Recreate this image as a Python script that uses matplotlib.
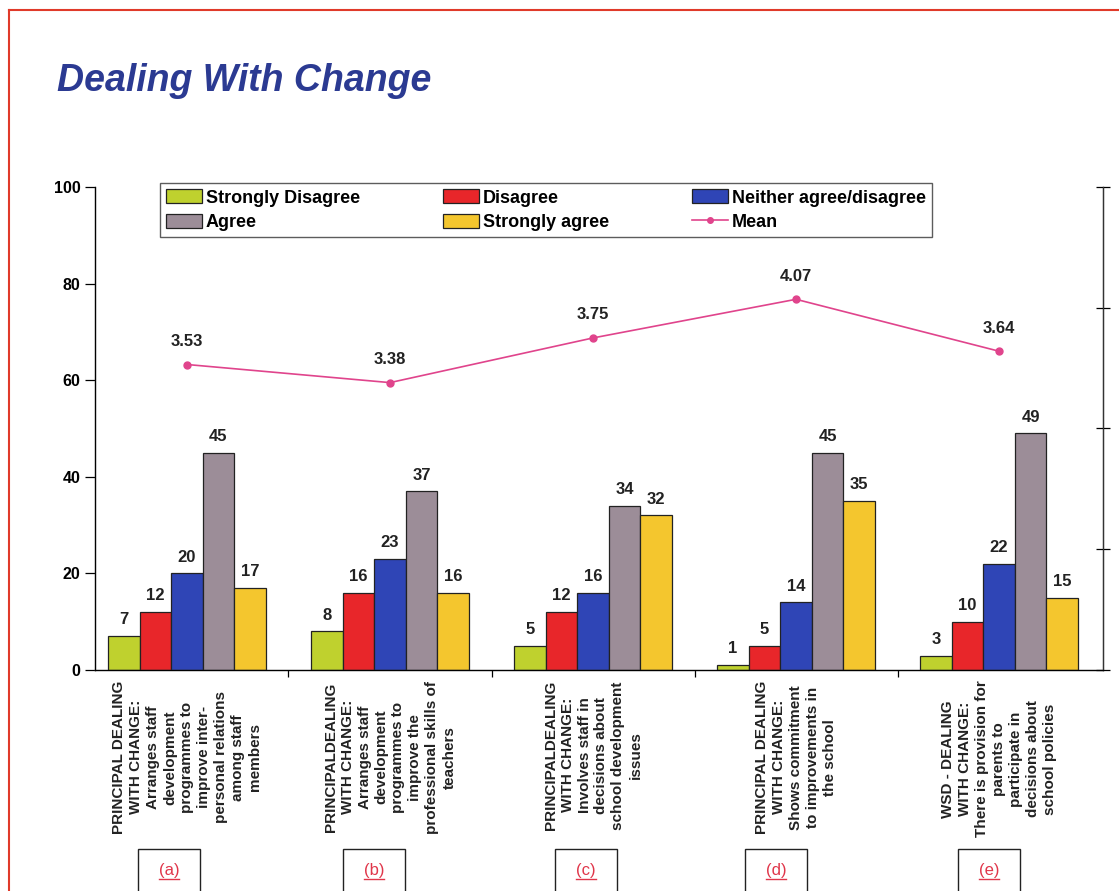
import matplotlib.pyplot as plt
from matplotlib.patches import Rectangle
from matplotlib.lines import Line2D
import numpy as np

# data
groups = ['(a)', '(b)', '(c)', '(d)', '(e)']
labels = [
    'PRINCIPAL DEALING\nWITH CHANGE:\nArranges staff\ndevelopment\nprogrammes to\nimprove inter-\npersonal relations\namong staff\nmembers',
    'PRINCIPALDEALING\nWITH CHANGE:\nArranges staff\ndevelopment\nprogrammes to\nimprove the\nprofessional skills of\nteachers',
    'PRINCIPALDEALING\nWITH CHANGE:\nInvolves staff in\ndecisions about\nschool development\nissues',
    'PRINCIPAL DEALING\nWITH CHANGE:\nShows commitment\nto improvements in\nthe school',
    'WSD - DEALING\nWITH CHANGE:\nThere is provision for\nparents to\nparticipate in\ndecisions about\nschool policies',
]
strongly_disagree = [7, 8, 5, 1, 3]
disagree = [12, 16, 12, 5, 10]
neither = [20, 23, 16, 14, 22]
agree = [45, 37, 34, 45, 49]
strongly_agree = [17, 16, 32, 35, 15]
mean = [3.53, 3.38, 3.75, 4.07, 3.64]

series = [strongly_disagree, disagree, neither, agree, strongly_agree]
names = ['Strongly Disagree', 'Disagree', 'Neither agree/disagree', 'Agree', 'Strongly agree']
colors = ['#bfd12e', '#e8262a', '#2f45b6', '#9c8d98', '#f4c62e']

plt.rcParams['font.family'] = ['Liberation Sans', 'DejaVu Sans']

fig = plt.figure(figsize=(11.19, 8.91), dpi=100)
ax = fig.add_axes([95 / 1119, 1 - 670 / 891, 1008 / 1119, 483 / 891])

x = np.arange(len(groups))
w = 0.155
bars = []
for i, (vals, name, c) in enumerate(zip(series, names, colors)):
    b = ax.bar(x + (i - 2) * w, vals, w, color=c, edgecolor='#222222', linewidth=0.9, label=name, zorder=2)
    bars.append(b)
    for xi, v in zip(x + (i - 2) * w, vals):
        ax.text(xi, v + 1.8, str(v), ha='center', va='bottom', fontsize=12, fontweight='bold', color='#222222')

ax.set_ylim(0, 100)
ax.set_xlim(-0.453, 4.512)
ax.set_yticks([0, 20, 40, 60, 80, 100])
ax.tick_params(axis='y', direction='out', length=7, labelsize=11.5, width=0.9)
for t in ax.get_yticklabels():
    t.set_fontweight('bold')
ax.set_xticks([0.5, 1.5, 2.5, 3.5])
ax.set_xticklabels([])
ax.tick_params(axis='x', direction='out', length=5, width=0.9)
ax.spines['top'].set_visible(False)
for s in ['left', 'bottom', 'right']:
    ax.spines[s].set_color('#333333')
    ax.spines[s].set_linewidth(1.0)

# category labels under the axis
for xi, lab in zip(x, labels):
    ax.text(xi, -2.2, lab, rotation=90, ha='center', va='top', multialignment='center',
            fontsize=11, fontweight='bold', color='#222222', linespacing=1.27)

# mean line on secondary axis
ax2 = ax.twinx()
ax2.set_ylim(1, 5)
ax2.set_yticks([1, 2, 3, 4, 5])
ax2.set_yticklabels([])
ax2.tick_params(axis='y', direction='inout', length=10, width=0.9)
ax2.spines['top'].set_visible(False)
ax2.spines['right'].set_color('#333333')
ax2.plot(x, mean, color='#e0448c', marker='o', markersize=5, linewidth=1.2, label='Mean')
for xi, m in zip(x, mean):
    ax2.text(xi, m + 0.13, f'{m:.2f}', ha='center', va='bottom', fontsize=12, fontweight='bold', color='#222222')

handles = [bars[0], bars[3], bars[1], bars[4], bars[2],
           Line2D([], [], color='#e0448c', marker='o', markersize=4, linewidth=1.2)]
leg_labels = [names[0], names[3], names[1], names[4], names[2], 'Mean']
leg = fig.legend(handles, leg_labels, ncol=3, loc='upper left', bbox_to_anchor=(160 / 1119, 1 - 183 / 891),
                 borderaxespad=0, frameon=True, fancybox=False, edgecolor='#333333',
                 prop={'weight': 'bold', 'size': 13}, handlelength=2.0, handleheight=0.8,
                 handletextpad=0.2, columnspacing=4.6, borderpad=0.35, labelspacing=0.4)
leg.get_frame().set_linewidth(1.0)

# title
fig.text(57 / 1119, 1 - 81 / 891, 'Dealing With Change', fontsize=27, fontweight='bold',
         fontstyle='italic', color='#2b3a92', ha='left', va='center')

# red page border
fig.add_artist(Line2D([9 / 1119, 1], [1 - 10 / 891, 1 - 10 / 891], color='#e03a2a', linewidth=1.5))
fig.add_artist(Line2D([9 / 1119, 9 / 1119], [0, 1 - 10 / 891], color='#e03a2a', linewidth=1.5))

# boxed group letters at the bottom
box_lefts = [138, 343, 555, 745, 958]
box_w = 62
for bl, g in zip(box_lefts, groups):
    fig.add_artist(Rectangle((bl / 1119, -0.01), box_w / 1119, (891 - 849) / 891 + 0.01,
                             transform=fig.transFigure, fill=False, edgecolor='#222222', linewidth=1.0))
    cx = (bl + box_w / 2) / 1119
    fig.text(cx, 1 - 870 / 891, g, ha='center', va='center', fontsize=12, color='#e0364a')
    fig.add_artist(Line2D([cx - 10 / 1119, cx + 10 / 1119], [1 - 879 / 891, 1 - 879 / 891],
                          color='#e0364a', linewidth=1.0))

fig.savefig('out.png', dpi=100)
